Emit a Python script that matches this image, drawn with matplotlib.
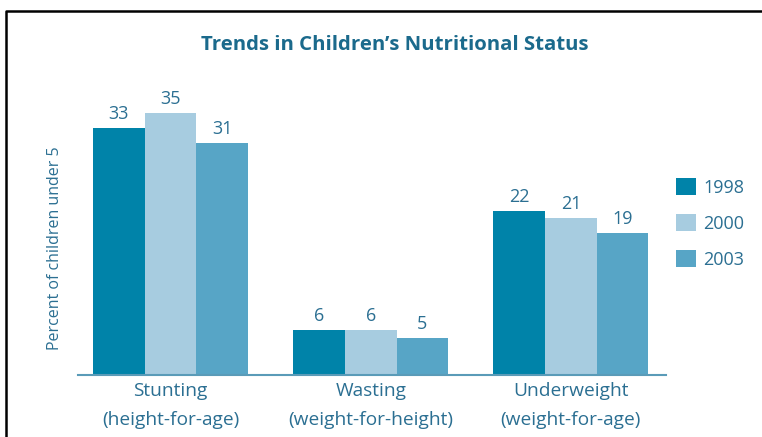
import matplotlib
matplotlib.use("Agg")
import matplotlib.pyplot as plt
from matplotlib.lines import Line2D
from matplotlib.patches import Patch
import numpy as np

# Data
categories = ["Stunting\n(height-for-age)", "Wasting\n(weight-for-height)", "Underweight\n(weight-for-age)"]
years = ["1998", "2000", "2003"]
values_1998 = [33, 6, 22]
values_2000 = [35, 6, 21]
values_2003 = [31, 5, 19]
colors = ["#0083a9", "#a7cce0", "#57a5c6"]
text_color = "#2b6f92"
title_color = "#1b6a8c"

plt.rcParams['font.family'] = ['Open Sans', 'DejaVu Sans']

fig = plt.figure(figsize=(7.62, 4.37), dpi=100)
ax = fig.add_axes([78 / 762, 1 - 375 / 437, 588 / 762, 275 / 437])

x = np.arange(len(categories))
width = 0.258
series = [values_1998, values_2000, values_2003]
for i, (vals, col, yr) in enumerate(zip(series, colors, years)):
    pos = x + (i - 1) * width
    ax.bar(pos, vals, width=width, color=col, label=yr)
    for p, v in zip(pos, vals):
        ax.text(p, v + 1.2, str(v), ha='center', va='baseline', fontsize=13, color=text_color)

ax.set_xlim(-0.4625, 2.475)
ax.set_ylim(0, 36.8)
ax.set_yticks([])
ax.set_xticks(x)
ax.set_xticklabels(categories, fontsize=13.8, color=text_color, linespacing=1.8)
ax.tick_params(axis='x', length=0, pad=5)
for s in ['top', 'right', 'left']:
    ax.spines[s].set_visible(False)
ax.spines['bottom'].set_color("#5a9bb8")
ax.spines['bottom'].set_linewidth(1.5)

fig.text(55 / 762, 1 - 248 / 437, "Percent of children under 5", rotation=90,
         ha='center', va='center', fontsize=11.5, color=text_color)

fig.text(395 / 762, 1 - 45 / 437, "Trends in Children\u2019s Nutritional Status",
         ha='center', va='center', fontsize=14.7, fontweight='bold', color=title_color)

handles = [Patch(facecolor=c, edgecolor='none') for c in colors]
fig.legend(handles, years, loc='upper left', bbox_to_anchor=(676 / 762, 1 - 178 / 437),
           frameon=False, fontsize=13, handlelength=1.1, handleheight=1.1,
           handletextpad=0.4, labelspacing=0.95, borderpad=0, borderaxespad=0,
           labelcolor=text_color)

# frame lines (left and top edges)
fig.add_artist(Line2D([6 / 762, 6 / 762, 1], [0, 1 - 11 / 437, 1 - 11 / 437],
                      transform=fig.transFigure, color='black', linewidth=1.8))

fig.savefig("out.png", dpi=100)
